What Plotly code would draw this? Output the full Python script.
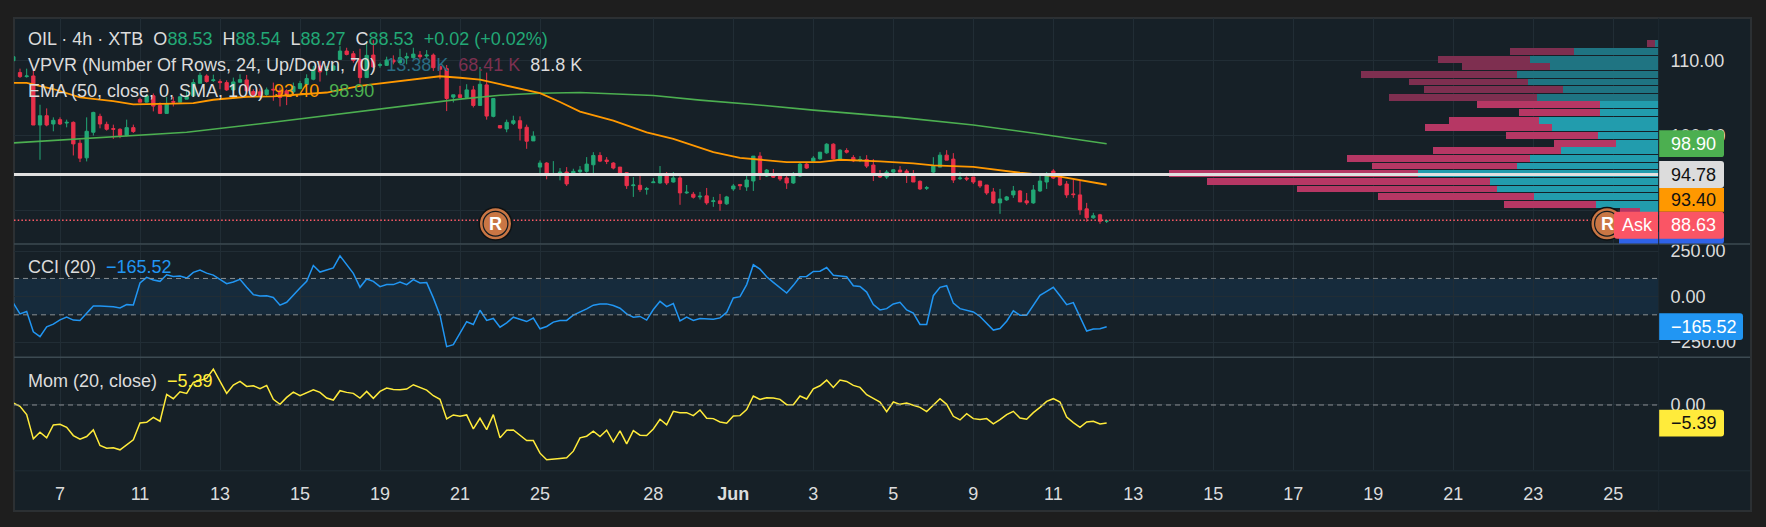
import plotly.graph_objects as go

W, H = 1766, 527

# Bar numbers run from -7 on the left; bar 0 is the candle of the "7" tick.
open_ = [110.04,108.44,107.90,107.99,101.41,102.66,101.55,102.13,101.68,101.77,98.97,97.01,100.44,102.57,101.50,100.93,100.84,100.00,101.06,
         104.84,104.48,105.33,104.04,102.97,104.57,104.48,104.88,105.33,107.01,107.99,107.37,107.24,107.10,106.12,107.15,107.46,105.90,105.86,105.50,
         106.21,105.99,105.99,105.86,106.30,106.84,107.55,109.33,108.79,108.79,110.21,111.33,110.97,110.21,107.77,110.79,109.41,109.41,110.13,109.77,110.39,110.44,110.79,110.66,110.79,109.24,108.97,105.15,105.46,105.10,106.12,104.04,106.79,102.57,101.33,100.88,101.64,101.99,101.11,99.28,
         95.77,96.31,94.79,94.79,95.11,94.88,95.15,95.20,96.08,97.33,96.71,96.31,95.77,95.02,93.28,93.33,92.79,93.68,93.64,94.66,93.77,94.31,92.31,92.13,91.77,91.91,91.15,91.24,90.84,92.84,93.42,93.11,93.91,97.24,94.57,94.57,94.57,94.31,93.64,94.57,96.17,96.57,
         96.88,97.68,98.84,96.84,97.99,97.06,96.70,96.79,96.04,94.66,94.44,95.10,95.37,95.24,94.57,93.86,92.93,95.10,95.77,97.37,96.84,94.21,94.30,94.44,93.90,93.37,92.44,90.97,91.37,92.04,92.57,91.24,90.97,92.57,93.77,95.24,94.44,93.50,92.17,92.04,90.17,88.97,89.37,88.53]
high = [110.57,108.97,108.97,108.79,104.13,103.64,102.44,102.44,102.13,101.90,99.46,102.44,103.19,102.93,101.86,101.46,100.97,102.13,101.46,
        105.10,105.55,105.64,104.44,105.19,105.19,105.33,106.21,107.55,108.44,108.21,108.17,107.55,107.41,107.77,108.21,108.13,106.21,106.30,106.44,
        107.10,106.44,106.21,107.10,107.33,108.21,109.33,109.99,109.33,109.55,111.99,111.77,111.33,111.64,112.66,112.79,109.77,110.57,110.75,111.64,111.10,111.77,111.33,111.46,111.01,109.41,109.46,105.46,106.66,106.88,106.66,109.19,108.44,104.97,101.33,102.13,102.66,102.57,101.46,100.57,
        96.66,96.44,96.57,95.64,95.77,95.55,95.91,97.11,97.77,97.77,97.11,96.44,95.77,95.11,94.44,94.57,93.11,94.31,95.91,95.11,95.11,94.57,93.37,92.44,92.44,92.97,91.77,92.17,91.91,93.51,93.51,94.57,97.24,97.77,95.51,95.51,94.57,94.57,95.11,96.44,96.31,97.24,
        97.77,98.97,98.97,98.17,98.30,97.37,97.24,97.37,96.84,95.37,95.37,95.50,95.90,95.50,95.37,93.99,93.24,97.10,97.77,98.04,97.64,95.10,94.53,94.44,93.90,93.37,92.97,92.84,91.90,93.24,92.70,92.30,93.37,94.57,95.10,95.50,94.97,93.90,94.04,94.04,90.97,89.64,89.50,88.54]
low = [110.04,107.73,107.77,101.41,96.75,101.24,100.57,101.41,101.10,97.33,96.44,96.53,100.00,100.97,100.66,99.55,99.64,99.90,100.35,
       104.44,104.44,103.24,102.88,102.97,103.90,104.44,104.88,105.33,107.01,107.10,107.19,106.21,105.99,105.99,107.10,105.33,105.24,105.10,105.33,
       104.66,103.90,104.08,105.33,106.21,106.66,107.41,107.24,108.08,108.66,110.21,110.75,109.77,106.97,107.77,109.10,109.10,109.33,109.55,109.55,109.55,110.30,110.21,110.30,108.66,107.55,103.28,104.44,105.10,105.10,103.77,104.04,102.13,102.44,100.97,100.44,101.41,99.33,98.22,99.28,
       94.88,94.13,94.71,93.99,93.24,94.75,94.97,95.02,94.97,96.44,96.17,95.46,94.79,92.84,91.77,92.44,92.08,93.64,93.55,93.37,93.68,90.71,92.17,91.55,91.42,90.71,90.44,89.91,90.71,92.57,92.71,92.57,92.57,94.04,94.44,94.31,93.91,92.84,93.51,94.44,95.51,96.44,
       96.75,97.55,96.79,96.70,97.59,96.44,96.44,95.64,93.90,94.30,94.17,94.97,95.10,93.64,93.77,92.70,92.70,94.97,95.77,96.70,93.64,94.04,93.90,93.50,92.97,92.04,90.84,89.50,91.24,91.64,91.10,90.70,90.84,92.44,92.84,94.17,93.24,91.64,91.64,89.37,88.44,88.84,88.17,88.27]
close = [110.57,107.90,107.99,101.41,102.66,101.41,102.04,101.55,101.77,98.88,96.97,100.57,103.10,101.55,100.84,100.84,100.00,101.06,100.53,
         104.48,105.33,103.95,102.97,104.30,104.48,105.19,105.24,107.10,108.08,107.24,107.46,107.10,106.12,107.19,107.50,105.99,105.46,105.33,106.12,
         106.12,105.10,105.33,106.57,106.97,107.64,108.88,108.53,108.88,109.33,111.33,110.88,110.08,107.77,110.75,109.19,109.50,110.13,109.86,110.44,110.57,110.92,110.57,110.79,109.10,108.88,104.97,105.46,105.10,106.12,104.04,106.88,102.61,104.97,101.01,101.77,101.99,100.97,99.24,99.91,
         96.31,94.97,94.88,95.11,93.51,95.20,95.37,96.17,97.33,96.57,96.53,95.64,94.88,93.28,93.37,92.75,92.88,93.77,94.57,93.64,94.31,92.31,92.40,91.73,91.86,90.97,91.24,90.88,91.77,93.24,93.28,94.04,97.24,94.93,95.37,94.44,94.17,93.64,94.71,96.17,95.64,96.97,
         97.77,98.84,96.88,98.04,97.77,96.61,96.79,95.90,94.97,94.44,95.10,95.41,95.10,94.97,93.77,92.84,93.01,95.90,97.37,96.70,94.04,94.30,94.17,93.77,93.24,92.30,90.97,91.50,91.77,92.57,91.10,90.97,92.70,93.90,94.70,94.30,93.37,92.04,92.08,90.04,88.97,89.24,88.51,88.53]
bars = list(range(-7, -7 + len(close)))

ema50_bars = [-7,-5,-1,3,8,11,17,20,23,28,32,40,45,51,54,57,60,63,66,72,75,78,83,88,92,98,102,109,114,117,123,128,131,137,144,150,157]
ema50 = [107.07,107.07,106.24,105.11,104.61,104.17,104.27,104.35,104.80,105.20,105.24,105.77,106.67,107.33,107.68,107.95,107.75,107.51,106.88,105.68,104.50,103.20,102.00,100.44,99.55,97.77,97.01,96.44,96.44,96.75,96.53,96.27,96.00,95.81,95.01,94.48,93.40]
ema100_bars = [-7,8,19,31,45,54,60,66,72,78,84,89,96,104,113,126,137,147,157]
ema100 = [99.01,99.87,100.44,101.68,103.24,104.21,104.88,105.41,105.68,105.77,105.60,105.37,104.75,104.17,103.41,102.44,101.41,100.21,98.90]

cci = [-35,-95,-82,-193,-220,-166,-151,-128,-113,-129,-131,-89,-51,-51,-53,-56,-62,-44,-46,75,106,91,84,120,111,113,102,133,146,129,118,93,71,80,95,51,11,4,5,-5,-47,-31,11,47,84,171,135,148,158,224,175,128,51,97,84,55,66,66,80,66,93,75,77,-7,-102,-275,-264,-199,-138,-153,-75,-131,-120,-168,-144,-113,-126,-137,-118,-177,-164,-140,
       -131,-131,-102,-86,-67,-47,-40,-40,-49,-64,-95,-113,-109,-129,-71,-26,-55,-38,-133,-113,-131,-120,-120,-124,-117,-87,-7,0,66,175,151,109,78,47,20,62,109,111,138,140,160,117,111,109,60,56,25,-44,-73,-66,-40,-31,-73,-91,-153,-153,5,51,60,-36,-66,-75,-84,-109,-148,-184,-175,-135,-78,-102,-102,-47,7,29,51,5,-44,-33,-113,-189,-178,-177,-165.52]
mom = [0.6,-0.4,-2.9,-10.2,-8.2,-9.9,-6.0,-5.8,-6.7,-9.2,-10.3,-9.5,-7.5,-12.2,-13.0,-12.9,-13.5,-12.0,-10.5,-5.4,-5.2,-3.7,-4.9,3.2,1.9,4.0,3.5,6.8,7.5,8.0,10.8,7.3,3.5,6.0,7.1,5.6,5.8,4.9,5.9,1.7,0.2,2.3,3.9,2.8,3.6,4.6,3.8,2.1,1.5,4.3,3.8,3.5,2.1,4.1,2.0,4.1,5.1,4.7,4.6,4.8,6.1,5.2,4.5,2.8,1.7,-4.2,-3.0,-3.4,-3.0,-7.2,-4.0,-7.4,-2.9,-9.9,-7.6,-7.5,-9.2,-10.7,-10.7,-14.5,-16.5,-16.2,
       -16.1,-15.9,-13.9,-9.9,-9.4,-7.9,-9.5,-7.6,-11.1,-7.8,-11.7,-7.7,-9.1,-9.2,-7.2,-4.3,-6.0,-1.9,-2.3,-2.3,-3.2,-1.5,-4.0,-4.1,-5.1,-5.5,-3.3,-3.2,-1.4,2.7,1.7,2.2,2.1,1.7,0.1,0.1,2.7,1.8,4.9,5.8,7.5,5.3,7.5,7.1,5.9,5.3,3.1,2.0,0.9,-2.0,0.9,0.2,0.6,-0.1,-0.7,-2.0,-0.2,1.9,0.2,-3.4,-4.5,-2.6,-4.1,-4.4,-4.1,-5.7,-4.4,-2.9,-1.9,-3.9,-4.3,-2.3,-0.7,1.1,1.9,0.9,-3.6,-5.3,-6.7,-5.1,-4.9,-5.7,-5.39]

# Visible range volume profile, one entry per price row from the top.
vp_price = [112.31,111.29,110.26,109.24,108.21,107.19,106.17,105.14,104.12,103.09,102.07,101.05,100.02,99.00,97.97,96.95,95.93,94.90,93.88,92.85,91.83,90.81,89.78]
vp_up = [0.08,2.16,3.26,2.77,3.61,3.31,2.42,3.10,1.50,1.48,3.05,2.72,1.55,1.09,2.49,3.28,3.61,6.13,4.28,4.12,3.18,1.58,0.46]
vp_down = [0.22,1.61,2.36,2.24,3.95,3.03,3.54,3.77,3.13,2.06,2.27,3.21,2.34,1.56,3.26,4.66,3.69,6.34,7.20,5.09,3.95,2.34,0.52]
vp_dim_rows = 8

tick_bars = [0,12,24,36,48,60,72,89,101,113,125,137,149,161,173,185,197,209,221,233]
tick_text = ["7","11","13","15","19","21","25","28","<b>Jun</b>","3","5","9","11","13","15","17","19","21","23","25"]

last_price, ask_price, ema50_last, ema100_last = 94.78, 88.63, 93.40, 98.90
cci_last, mom_last = -165.52, -5.39

BG, OUTER, GRID, SEP = "#162027", "#1e1e1e", "#212d35", "#3c4a52"
TEXT, UP, DOWN = "#dcdcdc", "#22a876", "#e8304a"
FONT = "Liberation Sans"
FS = 18


def px(x):
    return x / W


def py(y):
    return 1 - y / H


LEFT, RIGHT, SCALE_END = 14, 1658.5, 1750
PX_PER_BAR = 80 / 12

fig = go.Figure()

# Volume profile sits behind the candles on its own reversed axis.
up_col = ["#1f7482" if i < vp_dim_rows else "#229cad" for i in range(len(vp_up))]
down_col = ["#7e2f50" if i < vp_dim_rows else "#b63764" for i in range(len(vp_up))]
fig.add_trace(go.Bar(x=vp_up, y=vp_price, orientation="h", width=0.92, marker=dict(color=up_col, line_width=0),
                     xaxis="x2", yaxis="y"))
fig.add_trace(go.Bar(x=vp_down, y=vp_price, base=vp_up, orientation="h", width=0.92, marker=dict(color=down_col, line_width=0),
                     xaxis="x2", yaxis="y"))

fig.add_trace(go.Candlestick(x=bars, open=open_, high=high, low=low, close=close, whiskerwidth=0,
                             increasing=dict(line=dict(color=UP, width=1), fillcolor=UP),
                             decreasing=dict(line=dict(color=DOWN, width=1), fillcolor=DOWN),
                             xaxis="x", yaxis="y"))
fig.add_trace(go.Scatter(x=ema100_bars, y=ema100, mode="lines", line=dict(color="#4caf50", width=1.6), xaxis="x", yaxis="y"))
fig.add_trace(go.Scatter(x=ema50_bars, y=ema50, mode="lines", line=dict(color="#ff9800", width=1.8), xaxis="x", yaxis="y"))
fig.add_trace(go.Scatter(x=bars, y=cci, mode="lines", line=dict(color="#2196f3", width=1.5), xaxis="x", yaxis="y2"))
fig.add_trace(go.Scatter(x=bars, y=mom, mode="lines", line=dict(color="#ffeb3b", width=1.5), xaxis="x", yaxis="y3"))

shapes = [
    dict(type="rect", xref="paper", yref="paper", x0=px(14), x1=px(1751), y0=py(15), y1=py(511), layer="below",
         fillcolor=BG, line=dict(color="#2c3033", width=2)),
    dict(type="rect", xref="paper", yref="y2", x0=px(LEFT), x1=px(RIGHT), y0=-100, y1=100, layer="below",
         fillcolor="rgba(33,150,243,0.1)", line_width=0),
]
for axis, level in (("y2", 100), ("y2", -100), ("y3", 0)):
    shapes.append(dict(type="line", xref="paper", yref=axis, x0=px(LEFT), x1=px(RIGHT), y0=level, y1=level,
                       line=dict(color="#8a8f92", width=1, dash="5px,4px")))
for y in (242.3, 356.3):
    shapes.append(dict(type="line", xref="paper", yref="paper", x0=px(LEFT), x1=px(SCALE_END), y0=py(y), y1=py(y),
                       line=dict(color=SEP, width=1.5)))
shapes.append(dict(type="line", xref="paper", yref="paper", x0=px(LEFT), x1=px(SCALE_END), y0=py(470.5), y1=py(470.5),
                   line=dict(color=GRID, width=1)))
shapes.append(dict(type="line", xref="paper", yref="y", x0=px(LEFT), x1=px(RIGHT), y0=ask_price, y1=ask_price,
                   line=dict(color="#ff5a66", width=1.5, dash="1.5px,2.2px")))
shapes.append(dict(type="line", xref="paper", yref="y", x0=px(LEFT), x1=px(RIGHT), y0=last_price, y1=last_price,
                   line=dict(color="#e0e0e0", width=3)))


def disc(cx, cy, r, color):
    return dict(type="circle", xref="paper", yref="paper", x0=px(cx - r), x1=px(cx + r), y0=py(cy - r), y1=py(cy + r),
                fillcolor=color, line_width=0)


BADGES = [(495.5, 222), (1607, 222)]
for cx, cy in BADGES:
    shapes += [disc(cx, cy, 17, "#0e1113"), disc(cx, cy, 15.5, "#c97644"), disc(cx, cy, 13, "#121a20"), disc(cx, cy, 11.8, "#c97644")]


def box(x0, y0, x1, y1, color, left=False, right=True, r=3):
    a = (f"M{px(x0 + r)},{py(y0)} Q{px(x0)},{py(y0)} {px(x0)},{py(y0 + r)}" if left else f"M{px(x0)},{py(y0)}")
    b = (f"L{px(x0)},{py(y1 - r)} Q{px(x0)},{py(y1)} {px(x0 + r)},{py(y1)}" if left else f"L{px(x0)},{py(y1)}")
    c = (f"L{px(x1 - r)},{py(y1)} Q{px(x1)},{py(y1)} {px(x1)},{py(y1 - r)}" if right else f"L{px(x1)},{py(y1)}")
    d = (f"L{px(x1)},{py(y0 + r)} Q{px(x1)},{py(y0)} {px(x1 - r)},{py(y0)}" if right else f"L{px(x1)},{py(y0)}")
    return dict(type="path", xref="paper", yref="paper", path=f"{a} {b} {c} {d} Z", fillcolor=color, line_width=0)


RED_TAG = "#fa5565"
shapes += [
    box(1619, 230, 1724, 242, "#2f63e8"),
    box(1659, 128, 1724, 155, "#4caf50"),
    box(1659, 159, 1724, 186, "#dcdcdc", right=True),
    box(1659, 186, 1724, 210, "#ff9800", right=False),
    box(1614, 210, 1658, 237, RED_TAG, left=True, right=False),
    box(1659, 210, 1724, 237, RED_TAG),
    box(1659, 312, 1743, 339, "#2196f3"),
    box(1659, 409, 1724, 436, "#ffeb3b"),
]
shapes.append(dict(type="line", xref="paper", yref="paper", x0=px(1658.7), x1=px(1658.7), y0=py(15), y1=py(511),
                   line=dict(color="#1d2830", width=1)))


def note(x, y, text, color=TEXT, size=FS, anchor="left"):
    return dict(xref="paper", yref="paper", x=px(x), y=py(y), text=text, showarrow=False, xanchor=anchor, yanchor="middle",
                align="left", font=dict(family=FONT, size=size, color=color), bgcolor="rgba(0,0,0,0)", borderpad=0)


def tint(text, color):
    return f'<span style="color:{color}">{text}</span>'


NB = "\u00a0"
G = "#22a876"
annotations = [
    note(27, 36.5, f"OIL · 4h · XTB{NB}{NB}O" + tint("88.53", G) + f"{NB}{NB}H" + tint("88.54", G) + f"{NB}{NB}L" + tint("88.27", G)
         + f"{NB}{NB}C" + tint("88.53", G) + f"{NB}{NB}" + tint(f"+0.02 (+0.02%)", G)),
    note(27, 62, f"VPVR (Number Of Rows, 24, Up/Down, 70){NB}{NB}" + tint("13.38 K", "#2a6d83") + f"{NB}{NB}"
         + tint("68.41 K", "#7c3050") + f"{NB}{NB}81.8 K"),
    note(27, 89, f"EMA (50, close, 0, SMA, 100){NB}{NB}" + tint(f"{ema50_last:.2f}", "#ff9800") + f"{NB}{NB}"
         + tint(f"{ema100_last:.2f}", "#4caf50")),
    note(27, 265.5, f"CCI (20){NB}{NB}" + tint("\u2212165.52", "#2196f3")),
    note(27, 380, f"Mom (20, close){NB}{NB}" + tint("\u22125.39", "#ffeb3b")),
    note(1670, 141.5, f"{ema100_last:.2f}", "#ffffff"),
    note(1670, 172.5, f"{last_price:.2f}", "#111111"),
    note(1670, 198, f"{ema50_last:.2f}", "#111111"),
    note(1670, 223.5, f"{ask_price:.2f}", "#ffffff"),
    note(1621, 223.5, "Ask", "#ffffff"),
    note(1670, 325.5, f"\u2212{abs(cci_last):.2f}", "#ffffff"),
    note(1670, 422.5, f"\u2212{abs(mom_last):.2f}", "#111111"),
]
for cx, cy in BADGES:
    annotations.append(note(cx, cy, "<b>R</b>", "#ffffff", 18, "center"))

x_range = [(LEFT - 60) / PX_PER_BAR, (RIGHT - 60) / PX_PER_BAR]
y_axis = dict(side="right", anchor="x", showgrid=True, gridcolor=GRID, gridwidth=1, zeroline=False, showline=False, ticks="",
              tickfont=dict(family=FONT, size=FS, color=TEXT), ticklabelstandoff=11, tickformat=".2f", fixedrange=True)

fig.update_layout(
    width=W, height=H, margin=dict(l=0, r=0, t=0, b=0),
    paper_bgcolor=OUTER, plot_bgcolor="rgba(0,0,0,0)", showlegend=False, barmode="overlay", bargap=0,
    xaxis=dict(domain=[px(LEFT), px(RIGHT)], range=x_range, anchor="y3", rangeslider=dict(visible=False),
               tickmode="array", tickvals=tick_bars, ticktext=tick_text, tickangle=0, showgrid=True, gridcolor=GRID, zeroline=False,
               showline=False, ticks="", ticklabelstandoff=11, tickfont=dict(family=FONT, size=FS, color=TEXT)),
    xaxis2=dict(domain=[px(LEFT), px(RIGHT)], range=[(RIGHT - LEFT) * 2.545 / 100, 0], anchor="y", overlaying="x", side="top",
                visible=False, showgrid=False),
    # The 90 gridline stays, its label always sits behind the price tags.
    yaxis=dict(domain=[py(242), py(15)], range=[100 - (242 - 133.3) / 7.5, 100 - (15 - 133.3) / 7.5],
               tickmode="array", tickvals=[110, 100, 90], ticktext=["110.00", "100.00", ""], **y_axis),
    yaxis2=dict(domain=[py(356), py(243)], range=[(295.3 - 356) / 0.183, (295.3 - 243) / 0.183],
                tickmode="array", tickvals=[250, 0, -250], **y_axis),
    yaxis3=dict(domain=[py(470), py(357)], range=[(404.3 - 470) / 3.34, (404.3 - 357) / 3.34],
                tickmode="array", tickvals=[0], **y_axis),
    shapes=shapes, annotations=annotations,
)

fig.write_html("out.html")
